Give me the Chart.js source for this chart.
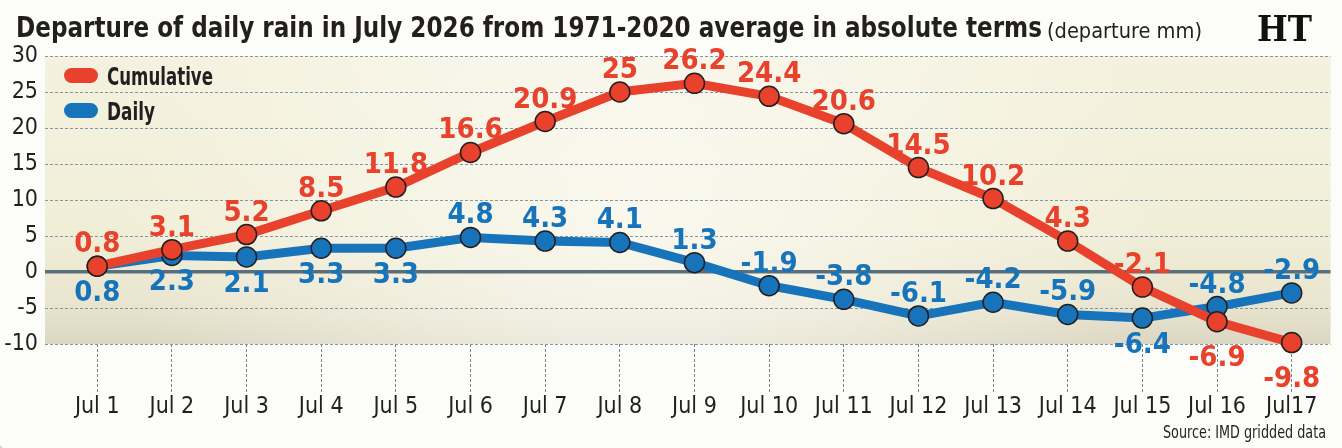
<!DOCTYPE html>
<html>
<head>
<meta charset="utf-8">
<script src="https://cdn.jsdelivr.net/npm/chart.js@4.4.1/dist/chart.umd.min.js"></script>
<style>
  html, body { margin: 0; padding: 0; background: #fcfcf8; }
  #wrap { width: 1342px; height: 448px; }
</style>
</head>
<body>
<div id="wrap"><canvas id="rainChart" width="1342" height="448"></canvas></div>
<script>
const days = ['Jul 1', 'Jul 2', 'Jul 3', 'Jul 4', 'Jul 5', 'Jul 6', 'Jul 7', 'Jul 8', 'Jul 9',
  'Jul 10', 'Jul 11', 'Jul 12', 'Jul 13', 'Jul 14', 'Jul 15', 'Jul 16', 'Jul17'];
const cumulative = [0.8, 3.1, 5.2, 8.5, 11.8, 16.6, 20.9, 25, 26.2, 24.4, 20.6, 14.5, 10.2, 4.3, -2.1, -6.9, -9.8];
const daily = [0.8, 2.3, 2.1, 3.3, 3.3, 4.8, 4.3, 4.1, 1.3, -1.9, -3.8, -6.1, -4.2, -5.9, -6.4, -4.8, -2.9];
const yMin = -10, yMax = 30, yStep = 5;

// which value labels sit under their point
const cumulativeBelow = [false, false, false, false, false, false, false, false, false,
  false, false, false, false, false, false, true, true];
const dailyBelow = [true, true, true, true, true, false, false, false, false,
  false, false, false, false, false, true, false, false];

const RED = '#e8412c';
const BLUE = '#1774bb';
const NARROW = '"Liberation Sans Narrow", "DejaVu Sans Condensed", sans-serif';

function fitText(ctx, text, x, y, width) {
  const w = ctx.measureText(text).width;
  ctx.save();
  ctx.translate(x, y);
  ctx.scale(width / w, 1);
  ctx.fillText(text, 0, 0);
  ctx.restore();
}

/* -------------------------------
   BACKGROUND
--------------------------------*/
const backdrop = {
  id: 'backdrop',
  beforeDraw(chart) {
    const { ctx, chartArea: a } = chart;
    ctx.save();
    ctx.fillStyle = '#fcfcf8';
    ctx.fillRect(0, 0, chart.width, chart.height);

    // corner swooshes
    ctx.fillStyle = '#b5d6e1';
    ctx.beginPath();
    ctx.arc(-32, 484, 50, 0, Math.PI * 2);
    ctx.fill();
    ctx.beginPath();
    ctx.arc(1378, 472, 42, 0, Math.PI * 2);
    ctx.fill();

    const g = ctx.createLinearGradient(0, a.top, 0, a.bottom);
    g.addColorStop(0, '#f4f1de');
    g.addColorStop(0.6, '#f1eed8');
    g.addColorStop(0.85, '#e9e5cf');
    g.addColorStop(1, '#dbd7c2');
    ctx.fillStyle = g;
    ctx.fillRect(a.left, a.top, a.right - a.left, a.bottom - a.top);

    const r = ctx.createRadialGradient(640, 200, 20, 640, 200, 520);
    r.addColorStop(0, 'rgba(252,251,244,0.75)');
    r.addColorStop(1, 'rgba(252,251,244,0)');
    ctx.fillStyle = r;
    ctx.fillRect(a.left, a.top, a.right - a.left, a.bottom - a.top);
    ctx.restore();
  }
};

/* -------------------------------
   VALUE LABELS
--------------------------------*/
const valueLabels = {
  id: 'valueLabels',
  afterDatasetsDraw(chart) {
    const ctx = chart.ctx;
    ctx.save();
    ctx.font = 'bold 29px ' + NARROW;
    ctx.textAlign = 'center';
    ctx.textBaseline = 'alphabetic';
    chart.data.datasets.forEach((ds, di) => {
      const meta = chart.getDatasetMeta(di);
      const below = di === 0 ? cumulativeBelow : dailyBelow;
      ctx.fillStyle = di === 0 ? RED : BLUE;
      meta.data.forEach((pt, i) => {
        const txt = String(ds.data[i].y);
        if (below[i]) {
          ctx.fillText(txt, pt.x, pt.y + (di === 0 ? 44 : 35));
        } else {
          ctx.fillText(txt, pt.x, pt.y - 14);
        }
      });
    });
    ctx.restore();
  }
};

/* -------------------------------
   TITLE, LEGEND, SOURCE
--------------------------------*/
const decorations = {
  id: 'decorations',
  afterDraw(chart) {
    const ctx = chart.ctx;
    ctx.save();
    ctx.fillStyle = '#231f20';
    ctx.textAlign = 'left';
    ctx.textBaseline = 'alphabetic';

    ctx.font = 'bold 28px ' + NARROW;
    fitText(ctx, 'Departure of daily rain in July 2026 from 1971-2020 average in absolute terms', 16, 37, 1026);
    ctx.font = '22px ' + NARROW;
    fitText(ctx, '(departure mm)', 1047, 38, 155);

    ctx.font = 'bold 36px "DejaVu Serif", serif';
    ctx.fillStyle = '#111';
    fitText(ctx, 'HT', 1257, 41, 55);

    // legend
    const items = [['Cumulative', RED, 68, 106], ['Daily', BLUE, 103, 48]];
    items.forEach(([name, col, top, w]) => {
      ctx.fillStyle = col;
      ctx.beginPath();
      ctx.roundRect(64, top, 34, 15, 7.5);
      ctx.fill();
      ctx.fillStyle = '#231f20';
      ctx.font = 'bold 24px ' + NARROW;
      fitText(ctx, name, 107, top + 17, w);
    });

    ctx.font = '17px ' + NARROW;
    ctx.fillStyle = '#231f20';
    fitText(ctx, 'Source: IMD gridded data', 1163, 438, 163);
    ctx.restore();
  }
};

/* -------------------------------
   CHART
--------------------------------*/
new Chart(document.getElementById('rainChart'), {
  type: 'line',
  data: {
    datasets: [
      {
        label: 'Cumulative',
        data: cumulative.map((v, i) => ({ x: i + 1, y: v })),
        borderColor: RED,
        backgroundColor: RED,
        borderWidth: 9,
        pointRadius: 10,
        pointHoverRadius: 10,
        pointBorderWidth: 1.5,
        pointBorderColor: '#231f20',
        pointBackgroundColor: RED,
        tension: 0,
        clip: false
      },
      {
        label: 'Daily',
        data: daily.map((v, i) => ({ x: i + 1, y: v })),
        borderColor: BLUE,
        backgroundColor: BLUE,
        borderWidth: 9,
        pointRadius: 10,
        pointHoverRadius: 10,
        pointBorderWidth: 1.5,
        pointBorderColor: '#231f20',
        pointBackgroundColor: BLUE,
        tension: 0,
        clip: false
      }
    ]
  },
  options: {
    responsive: false,
    animation: false,
    events: [],
    layout: { padding: { top: 56, right: 11, left: 0, bottom: 0 } },
    plugins: { legend: { display: false }, tooltip: { enabled: false } },
    scales: {
      x: {
        type: 'linear',
        min: 0.3,
        max: 17.52,
        afterBuildTicks: s => { s.ticks = days.map((d, i) => ({ value: i + 1 })); },
        afterFit: s => { s.height = 104; },
        border: { display: false },
        grid: {
          drawOnChartArea: false,
          drawTicks: true,
          tickLength: 48,
          tickColor: '#6f8595',
          tickWidth: 1,
          tickBorderDash: [3, 2]
        },
        ticks: {
          autoSkip: false,
          maxRotation: 0,
          padding: 1,
          color: '#231f20',
          font: { family: NARROW, size: 23 },
          callback: v => days[v - 1]
        }
      },
      y: {
        min: yMin,
        max: yMax,
        afterFit: s => { s.width = 45; },
        border: {
          display: false,
          dash: c => (c.tick && c.tick.value === 0 ? [] : [3, 2])
        },
        grid: {
          drawTicks: false,
          color: c => (c.tick && c.tick.value === 0 ? '#5b6f7b' : '#8197a6'),
          lineWidth: c => (c.tick && c.tick.value === 0 ? 3.5 : 1)
        },
        ticks: {
          stepSize: yStep,
          padding: 7,
          color: '#231f20',
          font: { family: NARROW, size: 23 }
        }
      }
    }
  },
  plugins: [backdrop, valueLabels, decorations]
});
</script>
</body>
</html>
